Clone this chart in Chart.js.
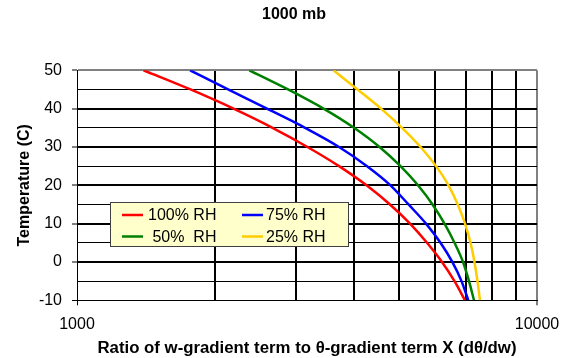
<!DOCTYPE html>
<html>
<head>
<meta charset="utf-8">
<script src="https://cdn.jsdelivr.net/npm/chart.js@4"></script>
<style>
  html, body { margin: 0; padding: 0; background: #ffffff; }
  canvas { display: block; }
</style>
</head>
<body>
<canvas id="chart" width="570" height="358"></canvas>
<script>
// Temperature (C) at which each curve is sampled
const temperatures = [50, 45, 40, 35, 30, 25, 20, 15, 10, 5, 0, -5, -10];

// Ratio X (dθ/dw) for each relative humidity, one value per temperature above
const rh100 = [1395, 1765, 2189, 2661, 3170, 3712, 4260, 4791, 5297, 5766, 6215, 6617, 6974];
const rh75  = [1761, 2130, 2588, 3131, 3712, 4271, 4803, 5257, 5737, 6169, 6544, 6853, 7090];
const rh50  = [2369, 2876, 3435, 4001, 4546, 5050, 5512, 5928, 6294, 6617, 6905, 7115, 7295];
const rh25  = [3611, 4072, 4580, 5088, 5582, 6032, 6421, 6725, 6974, 7169, 7313, 7424, 7517];

const seriesLabels = ['100% RH', '75% RH', ' 50%  RH', '25% RH'];
const seriesColors = ['#ff0000', '#0000ff', '#008000', '#ffcc00'];

// Log-axis ticks (one gridline per thousand) and the ones that carry labels
const xTickValues = [1000, 2000, 3000, 4000, 5000, 6000, 7000, 8000, 9000, 10000];
const xTickLabels = ['1000', '10000'];
const yTickLabels = ['-10', '0', '10', '20', '30', '40', '50'];

const chartTitle = '1000 mb';
const xTitle = 'Ratio of w-gradient term to θ-gradient term X (dθ/dw)';
const yTitle = 'Temperature (C)';

const FONT = 'Arial, "Liberation Sans", sans-serif';

function points(xs) {
  return xs.map((x, i) => ({ x: x, y: temperatures[i] }));
}

const seriesValues = [rh100, rh75, rh50, rh25];
const datasets = seriesValues.map((vals, i) => ({
  label: seriesLabels[i],
  data: points(vals),
  borderColor: seriesColors[i],
  backgroundColor: seriesColors[i],
  borderWidth: 2.5,
  showLine: true,
  pointRadius: 0,
  fill: false,
  cubicInterpolationMode: 'monotone'
}));

// Title text drawn above the plot
const titlePlugin = {
  id: 'topTitle',
  afterDraw(chart, args, opts) {
    const ctx = chart.ctx;
    ctx.save();
    ctx.font = 'bold 16px ' + FONT;
    ctx.fillStyle = '#000';
    ctx.textAlign = 'center';
    ctx.textBaseline = 'middle';
    ctx.fillText(opts.text, opts.x, opts.y);
    ctx.restore();
  }
};

// Boxed two-column legend placed inside the plot
const boxLegendPlugin = {
  id: 'boxLegend',
  afterDatasetsDraw(chart, args, opts) {
    const ctx = chart.ctx;
    ctx.save();
    ctx.fillStyle = opts.background;
    ctx.fillRect(opts.x, opts.y, opts.w, opts.h);
    ctx.strokeStyle = opts.border;
    ctx.lineWidth = 1;
    ctx.strokeRect(opts.x + 0.5, opts.y + 0.5, opts.w - 1, opts.h - 1);
    ctx.font = '16px ' + FONT;
    ctx.textAlign = 'left';
    ctx.textBaseline = 'middle';
    chart.data.datasets.forEach((ds, i) => {
      const col = opts.columns[i % 2];
      const rowY = opts.rows[Math.floor(i / 2)];
      ctx.strokeStyle = ds.borderColor;
      ctx.lineWidth = 2.5;
      ctx.beginPath();
      ctx.moveTo(col.line0, rowY);
      ctx.lineTo(col.line1, rowY);
      ctx.stroke();
      ctx.fillStyle = '#000';
      ctx.fillText(ds.label, col.text, rowY + 1);
    });
    ctx.restore();
  }
};

const near = (v, t) => Math.abs(v - t) < 1e-6 * Math.max(1, Math.abs(t));

new Chart(document.getElementById('chart'), {
  type: 'scatter',
  data: { datasets: datasets },
  plugins: [boxLegendPlugin, titlePlugin],
  options: {
    responsive: false,
    animation: false,
    devicePixelRatio: 1,
    layout: { padding: { top: 70.3, right: 33, bottom: 0, left: 0 } },
    plugins: {
      legend: { display: false },
      tooltip: { enabled: false },
      topTitle: { text: chartTitle, x: 294, y: 15 },
      boxLegend: {
        x: 110, y: 202, w: 239, h: 45,
        background: '#ffffcc', border: '#404040',
        columns: [
          { line0: 122, line1: 143, text: 148 },
          { line0: 242, line1: 263, text: 266 }
        ],
        rows: [215, 236.5]
      }
    },
    scales: {
      x: {
        type: 'logarithmic',
        min: 1000,
        max: 10000,
        afterBuildTicks(scale) {
          scale.ticks = xTickValues.map((v) => ({ value: v, major: false }));
        },
        afterFit(scale) { scale.height = 57.7; },
        border: { display: true, color: '#000', width: 1 },
        grid: {
          drawTicks: true,
          tickLength: 5,
          color: (c) => {
            const v = c.tick ? c.tick.value : 0;
            if (near(v, 10000)) return '#808080';
            return '#000';
          },
          lineWidth: (c) => {
            const v = c.tick ? c.tick.value : 0;
            if (near(v, 1000)) return 1;
            return 2;
          },
          tickColor: (c) => {
            const v = c.tick ? c.tick.value : 0;
            return (near(v, 1000) || near(v, 10000)) ? '#000' : 'rgba(0,0,0,0)';
          },
          tickWidth: 1
        },
        ticks: {
          autoSkip: false,
          maxRotation: 0,
          minRotation: 0,
          padding: 10,
          color: '#000',
          font: { family: FONT, size: 16 },
          callback: (v) => {
            const s = String(Math.round(v));
            return xTickLabels.includes(s) ? s : '';
          }
        },
        title: {
          display: true,
          text: xTitle,
          color: '#000',
          font: { family: FONT, size: 16.8, weight: 'bold' },
          padding: { top: 0, bottom: 0 }
        }
      },
      y: {
        type: 'linear',
        min: -10,
        max: 50,
        afterFit(scale) { scale.width = 77; },
        border: { display: true, color: '#000', width: 1 },
        grid: {
          drawTicks: true,
          tickLength: 5,
          color: (c) => {
            const v = c.tick ? c.tick.value : 0;
            if (v === 50) return '#808080';
            return '#000';
          },
          lineWidth: (c) => {
            const v = c.tick ? c.tick.value : 0;
            if (v === -10) return 1;
            return (v % 10 === 0) ? 2 : 1;
          },
          tickColor: (c) => {
            const v = c.tick ? c.tick.value : 0;
            return (v % 10 === 0) ? '#000' : 'rgba(0,0,0,0)';
          },
          tickWidth: 1
        },
        ticks: {
          stepSize: 5,
          autoSkip: false,
          padding: 10,
          color: '#000',
          font: { family: FONT, size: 16 },
          callback: (v) => {
            const s = String(v);
            return yTickLabels.includes(s) ? s : '';
          }
        },
        title: {
          display: true,
          text: yTitle,
          color: '#000',
          font: { family: FONT, size: 16, weight: 'bold' },
          padding: { top: 15.4, bottom: 0 }
        }
      }
    }
  }
});
</script>
</body>
</html>
